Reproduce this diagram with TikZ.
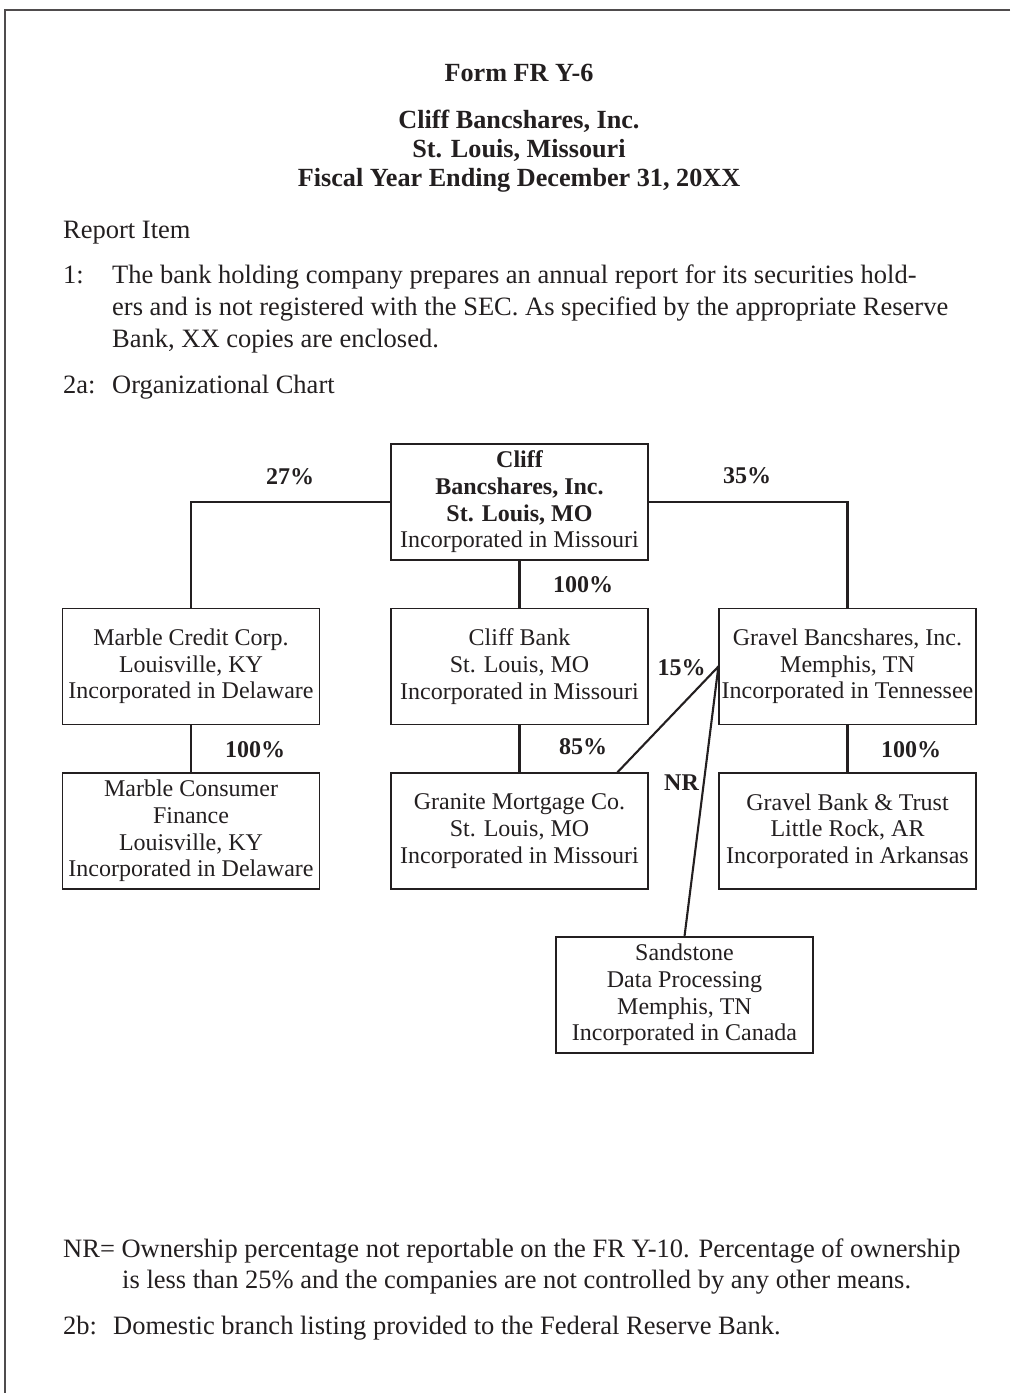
\documentclass[tikz,border=0pt]{standalone}
\usepackage{fontspec}
\setmainfont{Liberation Serif}
\usetikzlibrary{calc}
\definecolor{ink}{HTML}{231F20}
\newcommand\bodyfs{\fontsize{26.5}{31.7}\selectfont}
\newcommand\boxfs{\fontsize{24}{26.7}\selectfont}
\newcommand\titlefs{\fontsize{26.2}{29}\selectfont\bfseries}
\begin{document}
\begin{tikzpicture}[x=1pt,y=-1pt,
  every node/.style={text=ink},
  orgbox/.style={draw=ink, line width=1.2pt, minimum width=257pt, minimum height=116pt,
    inner sep=0pt, align=center, font=\boxfs},
  conn/.style={draw=ink, line width=2.1pt},
  pct/.style={anchor=base, font=\boxfs\bfseries, inner sep=0pt},
  ttl/.style={anchor=base, font=\titlefs, inner sep=0pt},
  bodyline/.style={anchor=base west, font=\bodyfs, inner sep=0pt},
  frameline/.style={draw=ink!80, line width=1.5pt}]
\useasboundingbox (0,0) rectangle (1010,1393);
\draw[frameline] (1010,10) -- (5,10) -- (5,1393);

% title
\node[ttl] (t1) at (519,81) {Form FR Y-6};
\node[ttl] (t2) at (519,128) {Cliff Bancshares, Inc.};
\node[ttl] (t3) at (519,157) {St. Louis, Missouri};
\node[ttl] (t4) at (519,186) {Fiscal Year Ending December 31, 20XX};

% body text
\node[bodyline] (ri) at (63,238) {Report Item};
\node[bodyline] (n1) at (63,283) {1:};
\node[bodyline] (p1a) at (112,283) {The bank holding company prepares an annual report for its securities hold-};
\node[bodyline] (p1b) at (112,315) {ers and is not registered with the SEC. As specified by the appropriate Reserve};
\node[bodyline] (p1c) at (112,347) {Bank, XX copies are enclosed.};
\node[bodyline] (n2a) at (63,393) {2a:};
\node[bodyline] (p2a) at (112,393) {Organizational Chart};

% boxes
\node[orgbox] (top) at (519.5,502) {\bfseries Cliff\\ \bfseries Bancshares, Inc.\\ \bfseries St. Louis, MO\\ Incorporated in Missouri};
\node[orgbox] (marble) at (191,666.5) {Marble Credit Corp.\\ Louisville, KY\\ Incorporated in Delaware};
\node[orgbox] (cliffbank) at (519.5,666.5) {Cliff Bank\\ St. Louis, MO\\ Incorporated in Missouri};
\node[orgbox] (gravel) at (847.5,666.5) {Gravel Bancshares, Inc.\\ Memphis, TN\\ Incorporated in Tennessee};
\node[orgbox] (consumer) at (191,831) {Marble Consumer\\ Finance\\ Louisville, KY\\ Incorporated in Delaware};
\node[orgbox] (granite) at (519.5,831) {Granite Mortgage Co.\\ St. Louis, MO\\ Incorporated in Missouri};
\node[orgbox] (gbt) at (847.5,831) {Gravel Bank \& Trust\\ Little Rock, AR\\ Incorporated in Arkansas};
\node[orgbox] (sand) at (684.5,995) {Sandstone\\ Data Processing\\ Memphis, TN\\ Incorporated in Canada};

% connectors
\draw[conn] (top.west) -| (marble.north);
\draw[conn] (top.east) -| (gravel.north);
\draw[conn] (top.south) -- (cliffbank.north);
\draw[conn] (marble.south) -- (consumer.north);
\draw[conn] (cliffbank.south) -- (granite.north);
\draw[conn] (gravel.south) -- (gbt.north);
\coordinate (gtop) at ($(granite.north west)!0.879!(granite.north east)$);
\draw[conn, line join=miter] (gtop) -- (gravel.west) -- (sand.north);

% percentages
\node[pct] (l27) at (290,484) {27\%};
\node[pct] (l35) at (747,483) {35\%};
\node[pct] (l100a) at (583,592) {100\%};
\node[pct] (l100b) at (255,757) {100\%};
\node[pct] (l85) at (583,754) {85\%};
\node[pct] (l100c) at (911,757) {100\%};
\node[pct] (l15) at (681.5,675) {15\%};
\node[pct] (lnr) at (681.5,790) {NR};

% footnote
\node[bodyline] (nr1) at (63,1257) {NR= Ownership percentage not reportable on the FR Y-10. Percentage of ownership};
\node[bodyline] (nr2) at (122,1288) {is less than 25\% and the companies are not controlled by any other means.};
\node[bodyline] (n2b) at (63,1334) {2b:};
\node[bodyline] (p2b) at (113,1334) {Domestic branch listing provided to the Federal Reserve Bank.};
\end{tikzpicture}
\end{document}
